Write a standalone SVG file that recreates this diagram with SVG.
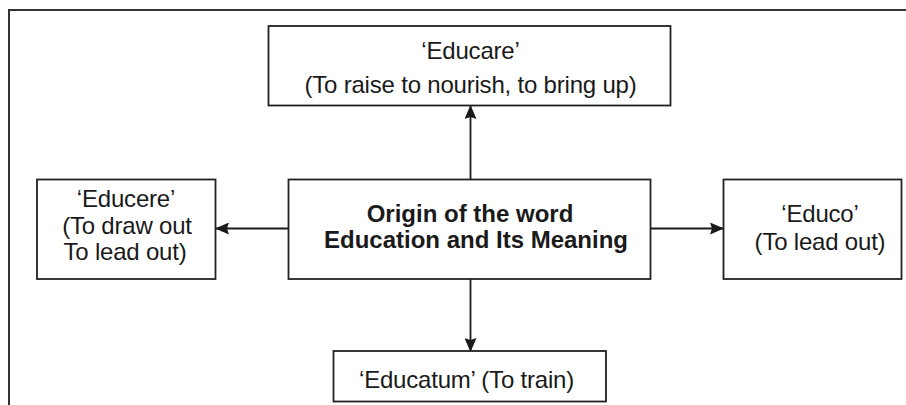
<svg xmlns="http://www.w3.org/2000/svg" width="906" height="405" viewBox="0 0 906 405">
<style>
.box{fill:#fff;stroke:#222;stroke-width:1.8}
.frame{fill:none;stroke:#333;stroke-width:2}
.t{font-family:"Liberation Sans",Arial,sans-serif;font-size:24px;fill:#1a1a1a;text-anchor:middle;letter-spacing:-0.2px}
.b{font-weight:bold;font-size:24px;letter-spacing:0}
.c{stroke:#1a1a1a;stroke-width:1.8;fill:none}
</style>
<defs>
<marker id="ah" viewBox="0 0 14 12" refX="13" refY="6" markerWidth="14" markerHeight="12" markerUnits="userSpaceOnUse" orient="auto">
<path d="M0,0 L14,6 L0,12 L2,6 Z" fill="#1a1a1a"/>
</marker>
</defs>
<rect width="906" height="405" fill="#fff"/>
<path class="frame" d="M9,405 L9,10 L906,10"/>
<g id="connectors">
<line class="c" x1="470.5" y1="179" x2="470.5" y2="106" marker-end="url(#ah)"/>
<line class="c" x1="470.5" y1="279" x2="470.5" y2="351" marker-end="url(#ah)"/>
<line class="c" x1="288" y1="228.5" x2="216" y2="228.5" marker-end="url(#ah)"/>
<line class="c" x1="651" y1="228.5" x2="723" y2="228.5" marker-end="url(#ah)"/>
</g>
<g id="center">
<rect class="box" x="288.5" y="179.5" width="362" height="99.5"/>
<text class="t b" x="470" y="222">Origin of the word</text>
<text class="t b" x="476" y="248">Education and Its Meaning</text>
</g>
<g id="educare">
<rect class="box" x="268.5" y="26" width="402" height="79.5"/>
<text class="t" x="470.5" y="59">‘Educare’</text>
<text class="t" x="470.5" y="93">(To raise to nourish, to bring up)</text>
</g>
<g id="educere">
<rect class="box" x="37" y="179.5" width="178.5" height="99.5"/>
<text class="t" x="126" y="207">‘Educere’</text>
<text class="t" x="127" y="234">(To draw out</text>
<text class="t" x="125" y="260">To lead out)</text>
</g>
<g id="educo">
<rect class="box" x="723.5" y="179.5" width="178" height="99.5"/>
<text class="t" x="820" y="222">‘Educo’</text>
<text class="t" x="820" y="250">(To lead out)</text>
</g>
<g id="educatum">
<rect class="box" x="333.5" y="351" width="272.5" height="50.5"/>
<text class="t" x="466.5" y="388">‘Educatum’ (To train)</text>
</g>
</svg>
